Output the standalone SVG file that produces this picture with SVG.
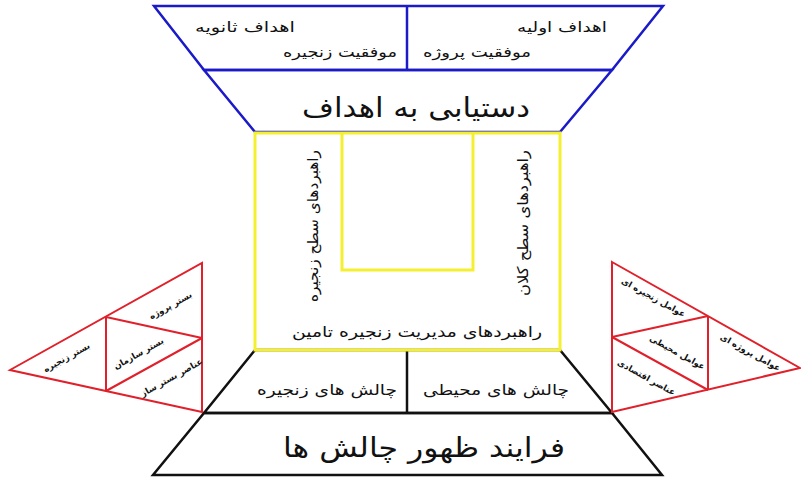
<svg xmlns="http://www.w3.org/2000/svg" width="801" height="479" viewBox="0 0 801 479">
<style>
.t{font-family:"DejaVu Sans",sans-serif;fill:#111;text-anchor:middle;direction:rtl}
.s{font-size:14px}
.m{font-size:15px}
.l{font-size:27px}
.x{font-size:8.5px;font-weight:bold}
.blue{fill:none;stroke:#1a1ac8;stroke-width:2.5;stroke-linejoin:miter}
.yel{fill:none;stroke:#f4f030;stroke-width:3}
.red{fill:none;stroke:#e0202a;stroke-width:2}
.blk{fill:none;stroke:#111;stroke-width:2.5}
</style>
<rect width="801" height="479" fill="#fff"/>
<g id="goals">
<polygon class="blue" points="154,6 663,6 612,70 204,70"/>
<polygon class="blue" points="204,70 612,70 560,132 255,132"/>
<line class="blue" x1="407" y1="6" x2="407" y2="70"/>
<text class="t s" x="245" y="32" textLength="100" lengthAdjust="spacingAndGlyphs">اهداف ثانویه</text>
<text class="t s" x="340" y="57" textLength="114" lengthAdjust="spacingAndGlyphs">موفقیت زنجیره</text>
<text class="t s" x="562" y="32" textLength="90" lengthAdjust="spacingAndGlyphs">اهداف اولیه</text>
<text class="t s" x="477" y="57" textLength="108" lengthAdjust="spacingAndGlyphs">موفقیت پروژه</text>
<text class="t l" x="416" y="117" textLength="228" lengthAdjust="spacingAndGlyphs">دستیابی به اهداف</text>
</g>
<g id="challenges">
<polygon class="blk" points="255,350 560,350 612,413 204,413"/>
<polygon class="blk" points="204,413 612,413 662,475 153,475"/>
<line class="blk" x1="407" y1="350" x2="407" y2="413"/>
<text class="t m" x="327" y="395" textLength="140" lengthAdjust="spacingAndGlyphs">چالش های زنجیره</text>
<text class="t m" x="496" y="395" textLength="146" lengthAdjust="spacingAndGlyphs">چالش های محیطی</text>
<text class="t l" x="424" y="457" textLength="282" lengthAdjust="spacingAndGlyphs">فرایند ظهور چالش ها</text>
</g>
<g id="strategies">
<rect class="yel" x="255" y="133" width="305" height="217"/>
<polyline class="yel" points="342,133 342,270 473,270 473,133"/>
<text class="t m" transform="translate(318,226) rotate(-90)" textLength="152" lengthAdjust="spacingAndGlyphs">راهبردهای سطح زنجیره</text>
<text class="t m" transform="translate(528,223) rotate(-90)" textLength="146" lengthAdjust="spacingAndGlyphs">راهبردهای سطح کلان</text>
<text class="t m" x="417" y="337" textLength="250" lengthAdjust="spacingAndGlyphs">راهبردهای مدیریت زنجیره تامین</text>
</g>
<g id="context">
<polygon class="red" points="10,370 202,263 202,412"/>
<line class="red" x1="106" y1="317" x2="106" y2="391"/>
<line class="red" x1="106" y1="317" x2="202" y2="338"/>
<line class="red" x1="106" y1="391" x2="202" y2="338"/>
<text class="t x" transform="translate(68,360) rotate(-29)">بستر زنجیره</text>
<text class="t x" transform="translate(172,308) rotate(-29)">بستر پروژه</text>
<text class="t x" transform="translate(140,356) rotate(-29)">بستر سازمان</text>
<text class="t x" transform="translate(173,380) rotate(-29)">عناصر بستر ساز</text>
</g>
<g id="factors">
<polygon class="red" points="612,262 800,368 612,412"/>
<line class="red" x1="708" y1="316" x2="708" y2="390"/>
<line class="red" x1="612" y1="337" x2="708" y2="316"/>
<line class="red" x1="612" y1="337" x2="708" y2="390"/>
<text class="t x" transform="translate(652,300) rotate(29)">عوامل زنجیره ای</text>
<text class="t x" transform="translate(676,355) rotate(29)">عوامل محیطی</text>
<text class="t x" transform="translate(645,380) rotate(29)">عناصر اقتصادی</text>
<text class="t x" transform="translate(749,355) rotate(29)">عوامل پروژه ای</text>
</g>
<g id="connectors"></g>
</svg>
